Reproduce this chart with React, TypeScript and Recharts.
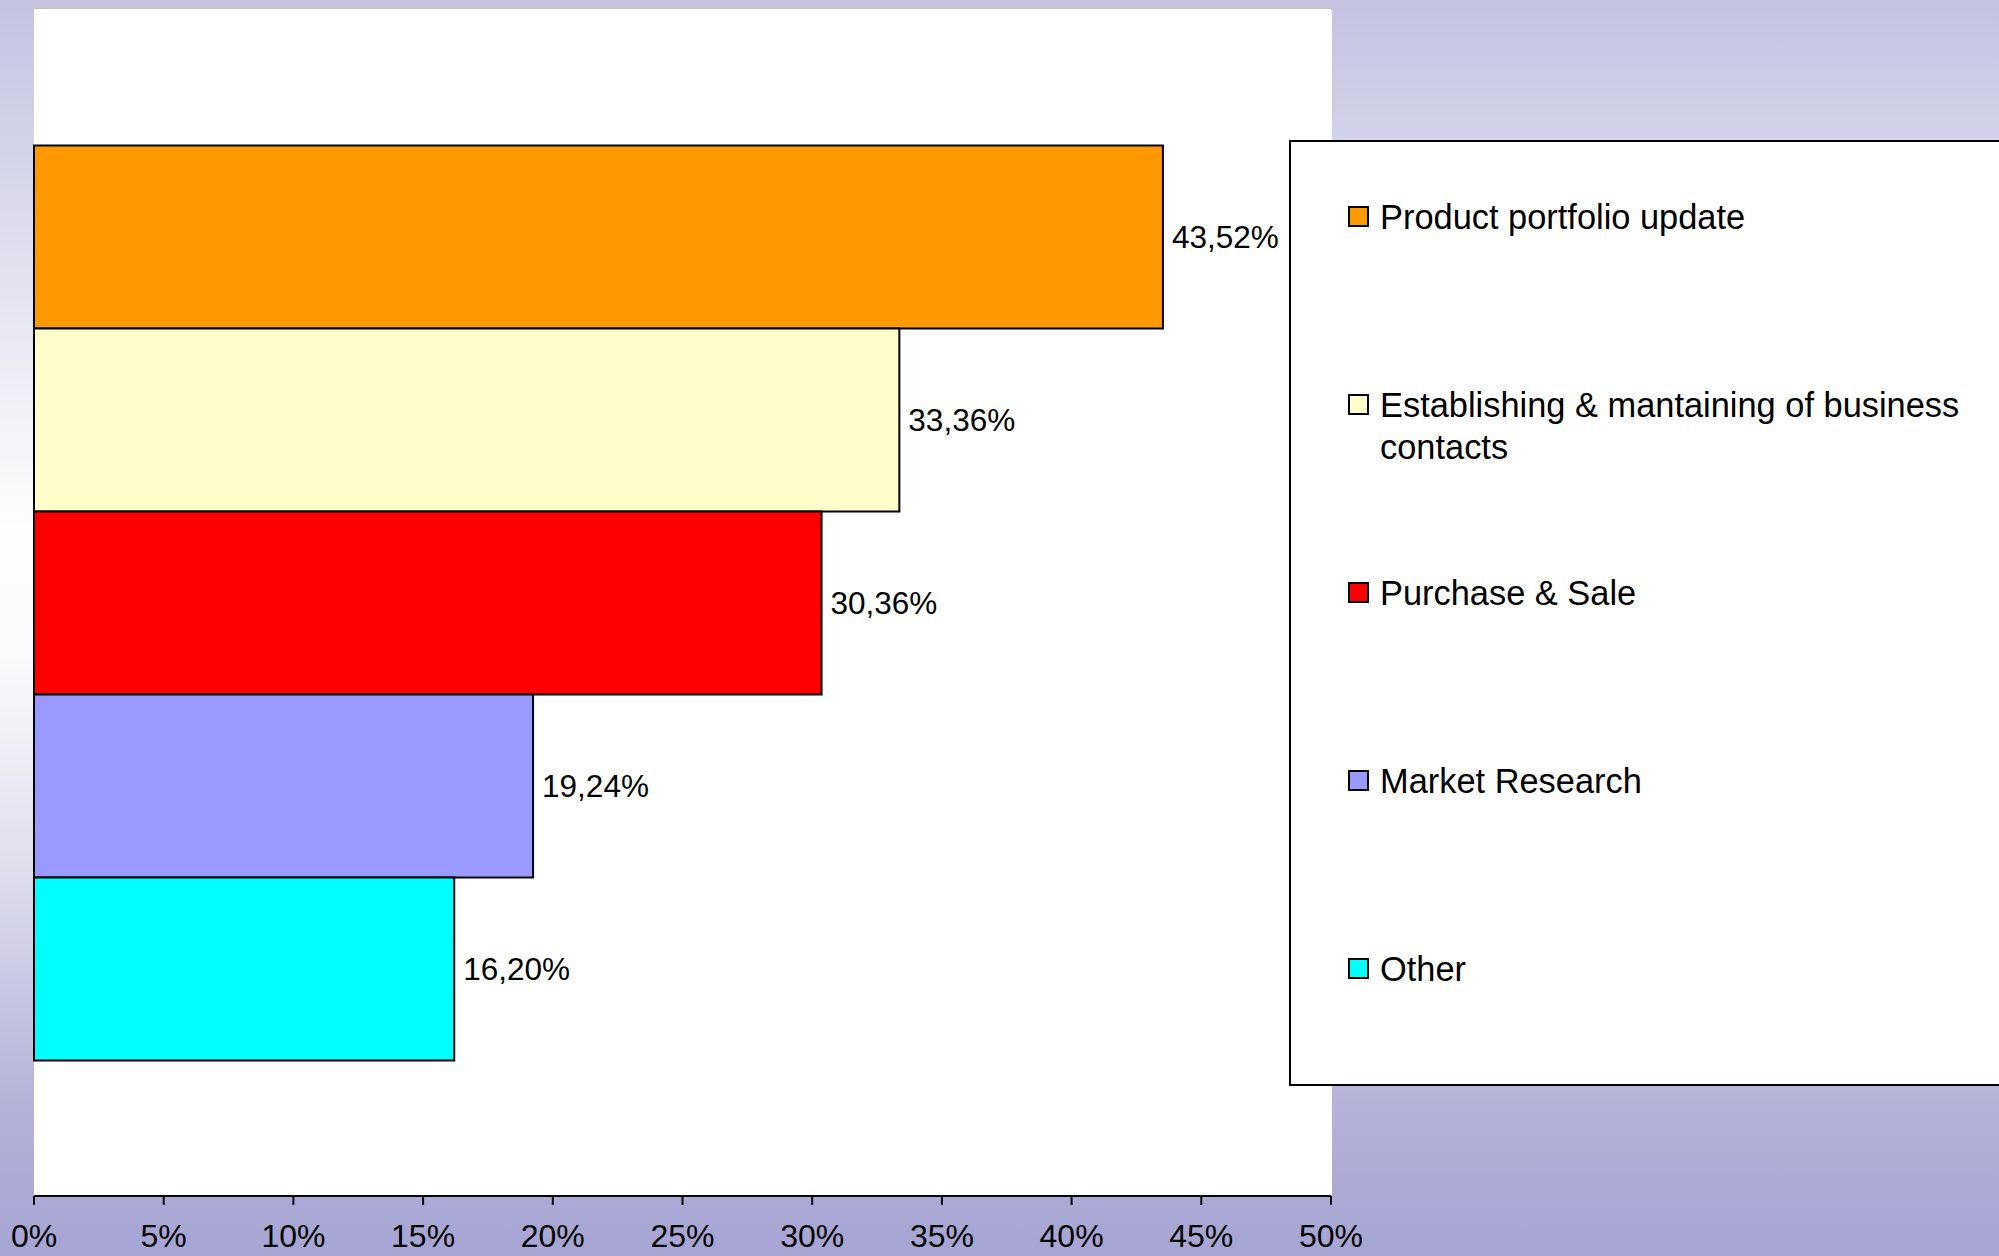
import React from 'react'
import { BarChart, Bar, XAxis, YAxis, CartesianGrid, LabelList } from 'recharts'

// series shown in the chart (one category, five series)
const seriesNames = [
  'Product portfolio update',
  'Establishing & mantaining of business contacts',
  'Purchase & Sale',
  'Market Research',
  'Other',
]
const seriesValues = [43.52, 33.36, 30.36, 19.24, 16.2]
const seriesColors = ['#ff9900', '#ffffcc', '#ff0000', '#9999ff', '#00ffff']
const xTicks = [0, 5, 10, 15, 20, 25, 30, 35, 40, 45, 50]

const W = 1999
const H = 1256
const FONT = '"Liberation Sans", Arial, sans-serif'

const keys = seriesNames.map((_, i) => `s${i}`)
const row: Record<string, string | number> = { name: 'all' }
keys.forEach((k, i) => { row[k] = seriesValues[i] })
const data = [row]

const fmt = (v: number) => v.toFixed(2).replace('.', ',') + '%'

function LegendBox() {
  return (
    <div style={{
      position: 'absolute', left: 1289, top: 140, width: 760, height: 946,
      boxSizing: 'border-box', border: '2px solid #000', background: '#fff',
      paddingTop: 54, paddingLeft: 57, fontFamily: FONT, fontSize: 34.4, lineHeight: '42px', color: '#000'
    }}>
      {seriesNames.map((name, i) => (
        <div key={name} style={{ display: 'flex', alignItems: 'flex-start', height: 188 }}>
          <div style={{
            width: 21, height: 21, boxSizing: 'border-box', border: '2px solid #000',
            background: seriesColors[i], marginTop: 10, marginRight: 11, flexShrink: 0
          }} />
          <div style={{ width: 620 }}>{name}</div>
        </div>
      ))}
    </div>
  )
}

export default function App() {
  return (
    <div style={{
      position: 'absolute', left: 0, top: 0, width: W, height: H, overflow: 'hidden',
      background: 'linear-gradient(to bottom, #c3c3e0 0%, #e6e6f2 25%, #fefefe 42%, #fbfbfd 52%, #dcdcec 70%, #b4b2d8 88%, #a6a4d3 100%)'
    }}>
      <div style={{ position: 'absolute', left: 34, top: 8, width: 1298, height: 1188, background: '#fff', borderTop: '2px solid #c0c0c0', boxSizing: 'border-box' }} />
      <div style={{ position: 'absolute', left: 0, top: 0 }}>
        <BarChart
          width={W}
          height={H}
          data={data}
          layout="vertical"
          margin={{ top: 9, right: 668, bottom: 0, left: 34 }}
          barGap={0}
          barCategoryGap="11.5%"
        >
          <CartesianGrid horizontal={false} vertical={false} fill="#ffffff" />
          <XAxis
            type="number"
            domain={[0, 50]}
            ticks={xTicks}
            interval={0}
            height={60}
            tickFormatter={(v: number) => `${v}%`}
            axisLine={{ stroke: '#000', strokeWidth: 2 }}
            tickLine={{ stroke: '#000', strokeWidth: 2 }}
            tickSize={9}
            tickMargin={19}
            tick={{ fill: '#000', fontSize: 32, fontFamily: FONT }}
          />
          <YAxis type="category" dataKey="name" hide />
          {keys.map((k, i) => (
            <Bar key={k} dataKey={k} fill={seriesColors[i]} stroke="#000" strokeWidth={2} isAnimationActive={false}>
              <LabelList
                dataKey={k}
                position="right"
                offset={9}
                formatter={(v: number) => fmt(v)}
                style={{ fill: '#000', fontSize: 31.5, fontFamily: FONT }}
              />
            </Bar>
          ))}
        </BarChart>
      </div>
      <LegendBox />
    </div>
  )
}
